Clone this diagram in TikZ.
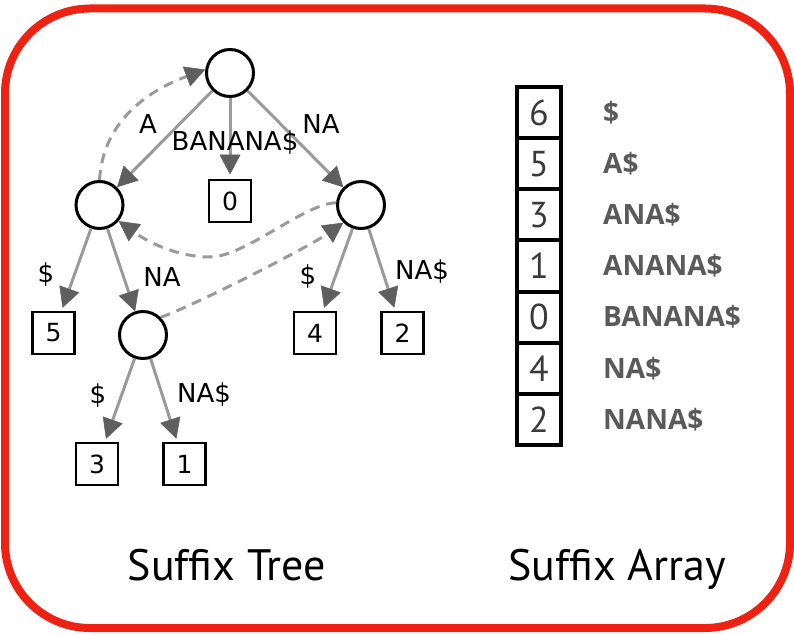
\documentclass[tikz,border=0pt]{standalone}
\usepackage{fontspec}
\setmainfont{DejaVu Sans}
\newfontfamily\titlefont{PT Sans}
\newfontfamily\suffont{Open Sans}
\usetikzlibrary{arrows.meta}
\definecolor{bordred}{HTML}{EE2213}
\definecolor{edgegray}{HTML}{9A9A9A}
\definecolor{headgray}{HTML}{5F5F5F}
\definecolor{labgray}{HTML}{5A5A5A}
\definecolor{numgray}{HTML}{3A3A3A}
\begin{document}
\begin{tikzpicture}[x=1pt,y=-1pt,
 inode/.style={circle,draw=black,line width=3pt,minimum size=47pt,inner sep=0pt},
 leaf/.style={rectangle,draw=black,line width=2.8pt,minimum size=42pt,inner sep=0pt,font=\fontsize{25}{27}\selectfont},
 edge/.style={draw=edgegray,line width=3pt,-{Triangle[length=20pt,width=21pt,color=headgray,line width=0.5pt]}},
 link/.style={edge,dash pattern=on 10pt off 7pt},
 elabel/.style={font=\fontsize{26}{28}\selectfont,inner sep=0pt},
 cell/.style={rectangle,draw=black,line width=4pt,minimum width=44pt,minimum height=51.1pt,inner sep=0pt,font=\titlefont\fontsize{36}{38}\selectfont,text=numgray},
 suf/.style={anchor=west,inner sep=0pt,font=\suffont\bfseries\fontsize{28}{30}\selectfont,text=labgray},
 title/.style={anchor=base,inner sep=0pt,font=\titlefont\fontsize{44}{46}\selectfont}]
\useasboundingbox (0,0) rectangle (794,634);
\draw[bordred,line width=8pt,rounded corners=85pt] (5,8.5) rectangle (790,628);

% tree nodes
\node[inode] (root) at (230,73) {};
\node[inode] (lc) at (99.5,205) {};
\node[inode] (rc) at (361,205) {};
\node[inode] (na) at (143,335) {};
\node[leaf] (b0) at (230,201) {0};
\node[leaf] (b5) at (53.5,333) {5};
\node[leaf] (b4) at (315,333) {4};
\node[leaf] (b2) at (402.5,333) {2};
\node[leaf] (b3) at (97,464) {3};
\node[leaf] (b1) at (184.5,464) {1};

% tree edges
\draw[edge] (root) -- (lc);
\draw[edge,shorten >=4pt] (root) -- (b0);
\draw[edge] (root) -- (rc);
\draw[edge,shorten >=3pt] (lc) -- (b5);
\draw[edge] (lc) -- (na);
\draw[edge,shorten >=3pt] (rc) -- (b4);
\draw[edge,shorten >=3pt] (rc) -- (b2);
\draw[edge,shorten >=3pt] (na) -- (b3);
\draw[edge,shorten >=3pt] (na) -- (b1);

% suffix links
\draw[link] (lc.90) .. controls (103,120) and (150,90) .. (root.172);
\draw[link] (rc.175) .. controls (305,203) and (245,257) .. (210,257)
  .. controls (175,257) and (145,240) .. (lc.-40);
\draw[link] (na.45) .. controls (200,303) and (310,246) .. (rc.225);

% edge labels
\node[elabel] (tA) at (148,124) {A};
\node[elabel] (tB) at (235,143) {BANANA\$};
\node[elabel] (tNA) at (321,124) {NA};
\node[elabel] (t5) at (46,275) {\$};
\node[elabel] (tNA2) at (162,277) {NA};
\node[elabel] (t4) at (308,277) {\$};
\node[elabel] (t2) at (422,272) {NA\$};
\node[elabel] (t3) at (98,396) {\$};
\node[elabel] (t1) at (204,395) {NA\$};

% suffix array
\foreach \v/\s [count=\i from 0] in {6/\$,5/A\$,3/ANA\$,1/ANANA\$,0/BANANA\$,4/NA\$,2/NANA\$}{
  \node[cell] (a\i) at (539,{87+51.14*(\i+0.5)}) {\v};
  \node[suf] (l\i) at (603,{87+51.14*(\i+0.5)}) {\s};
}

% titles
\node[title] (st) at (227,580) {Suffix Tree};
\node[title] (sa) at (617,580) {Suffix Array};
\end{tikzpicture}
\end{document}
